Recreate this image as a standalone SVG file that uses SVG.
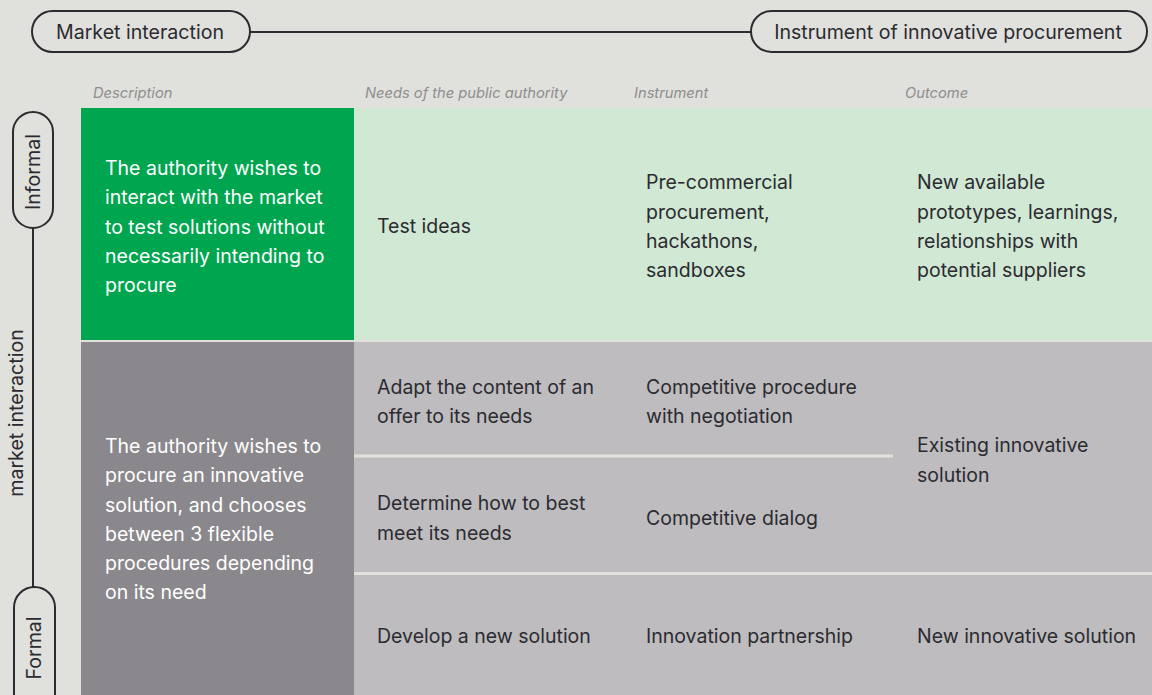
<svg xmlns="http://www.w3.org/2000/svg" width="1152" height="695" viewBox="0 0 1152 695">
<style>
.pill{fill:#e0e0dc;stroke:#2b2b30;stroke-width:2}
.ax{stroke:#2b2b30;stroke-width:2;fill:none}
.lbl{font-family:Inter,"Liberation Sans",sans-serif;font-size:19.6px;fill:#2b2b30}
.hd{font-family:Inter,"Liberation Sans",sans-serif;font-size:14.7px;font-style:italic;fill:#8e8e8e}
.t{font-family:Inter,"Liberation Sans",sans-serif;font-size:19.5px;fill:#2b2b30}
.w{font-family:Inter,"Liberation Sans",sans-serif;font-size:19.5px;fill:#ffffff}
.sep{stroke:#e0e0dc;stroke-width:3}
</style>
<rect width="1152" height="695" fill="#e0e0dc"/>
<g id="connectors">
<line class="ax" x1="250" y1="32" x2="752" y2="32"/>
<line class="ax" x1="33" y1="228" x2="33" y2="588"/>
</g>
<g id="market-interaction">
<rect class="pill" x="32" y="11" width="218" height="41" rx="20.5"/>
<text class="lbl" x="140" y="39" text-anchor="middle">Market interaction</text>
</g>
<g id="instrument">
<rect class="pill" x="751" y="11" width="396" height="41" rx="20.5"/>
<text class="lbl" x="948" y="39" text-anchor="middle">Instrument of innovative procurement</text>
</g>
<g id="informal">
<rect class="pill" x="13" y="112" width="40" height="116" rx="20"/>
<text class="lbl" transform="translate(40 172) rotate(-90)" text-anchor="middle">Informal</text>
</g>
<g id="axis-label">
<text class="lbl" transform="translate(23 413) rotate(-90)" text-anchor="middle">market interaction</text>
</g>
<g id="formal">
<rect class="pill" x="14" y="587" width="41" height="130" rx="20.5"/>
<text class="lbl" transform="translate(41 648) rotate(-90)" text-anchor="middle">Formal</text>
</g>
<g id="headers">
<text class="hd" x="93" y="97.5">Description</text>
<text class="hd" x="365" y="97.5">Needs of the public authority</text>
<text class="hd" x="634" y="97.5">Instrument</text>
<text class="hd" x="905" y="97.5">Outcome</text>
</g>
<g id="row-informal">
<rect x="81" y="108" width="273" height="232" fill="#00a64f"/>
<rect x="354" y="108" width="798" height="232" fill="#d0e8d4"/>
<text class="w" x="105" y="174.5">The authority wishes to</text>
<text class="w" x="105" y="204">interact with the market</text>
<text class="w" x="105" y="233.5">to test solutions without</text>
<text class="w" x="105" y="262.5">necessarily intending to</text>
<text class="w" x="105" y="292">procure</text>
<text class="t" x="377" y="232.5">Test ideas</text>
<text class="t" x="646" y="188.5">Pre-commercial</text>
<text class="t" x="646" y="218.5">procurement,</text>
<text class="t" x="646" y="247.5">hackathons,</text>
<text class="t" x="646" y="276.5">sandboxes</text>
<text class="t" x="917" y="188.5">New available</text>
<text class="t" x="917" y="218.5">prototypes, learnings,</text>
<text class="t" x="917" y="247.5">relationships with</text>
<text class="t" x="917" y="276.5">potential suppliers</text>
</g>
<g id="row-formal">
<rect x="81" y="342" width="273" height="353" fill="#8b888d"/>
<rect x="354" y="342" width="798" height="353" fill="#bebcbf"/>
<line class="sep" x1="354" y1="456" x2="893" y2="456"/>
<line class="sep" x1="354" y1="573.5" x2="1152" y2="573.5"/>
<text class="w" x="105" y="452.5">The authority wishes to</text>
<text class="w" x="105" y="482">procure an innovative</text>
<text class="w" x="105" y="511.5">solution, and chooses</text>
<text class="w" x="105" y="540.5">between 3 flexible</text>
<text class="w" x="105" y="570">procedures depending</text>
<text class="w" x="105" y="599">on its need</text>
<text class="t" x="377" y="393.5">Adapt the content of an</text>
<text class="t" x="377" y="422.5">offer to its needs</text>
<text class="t" x="646" y="393.5">Competitive procedure</text>
<text class="t" x="646" y="422.5">with negotiation</text>
<text class="t" x="917" y="451.5">Existing innovative</text>
<text class="t" x="917" y="481.5">solution</text>
<text class="t" x="377" y="509.5">Determine how to best</text>
<text class="t" x="377" y="539.5">meet its needs</text>
<text class="t" x="646" y="524.5">Competitive dialog</text>
<text class="t" x="377" y="642.5">Develop a new solution</text>
<text class="t" x="646" y="642.5">Innovation partnership</text>
<text class="t" x="917" y="642.5">New innovative solution</text>
</g>
</svg>
